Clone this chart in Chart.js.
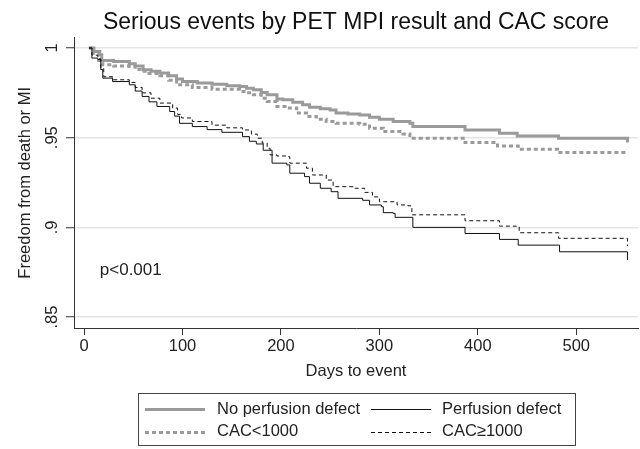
<!DOCTYPE html>
<html>
<head>
<meta charset="utf-8">
<script src="https://cdn.jsdelivr.net/npm/chart.js@4/dist/chart.umd.min.js"></script>
<style>
  html, body { margin: 0; padding: 0; background: #ffffff; overflow: hidden; }
  canvas { display: block; }
</style>
</head>
<body>
<canvas id="c" width="640" height="449"></canvas>
<script>
// ---------------- data ----------------
const chartTitle = 'Serious events by PET MPI result and CAC score';
const xTitle = 'Days to event';
const yTitle = 'Freedom from death or MI';
const xTickValues = [0, 100, 200, 300, 400, 500];
const yTickValues = [0.85, 0.9, 0.95, 1];
const yTickLabels = ['.85', '.9', '.95', '1'];
const seriesNames = ['No perfusion defect', 'Perfusion defect', 'CAC<1000', 'CAC\u22651000'];
const pValueText = 'p<0.001';

const noDefectDays = [5,10,16,18,30,46,52,60,68,77,86,94,100,115,130,145,158,165,172,180,186,196,202,212,222,229,240,250,256,268,280,290,300,314,331,334,387,422,440,482,552];
const noDefectSurv = [1.0,.998,.9963,.9931,.9925,.9912,.990,.9879,.987,.986,.9845,.9827,.9813,.9805,.9798,.979,.9785,.9775,.9767,.9752,.9739,.9715,.9711,.9697,.9683,.967,.9662,.9655,.9637,.9632,.9627,.9614,.9603,.959,.958,.9562,.9543,.9525,.951,.9497,.9473];

const defectDays = [5,8,14,17,19,29,46,52,59,66,74,87,92,97,110,125,140,161,168,175,182,191,206,209,224,229,240,251,258,283,290,302,304,314,316,334,387,422,441,483,552];
const defectSurv = [1.0,.9944,.9935,.988,.9832,.9813,.9795,.976,.973,.970,.9674,.9646,.962,.958,.9562,.9545,.953,.9506,.948,.9465,.943,.9358,.9348,.9302,.9283,.9246,.9218,.9199,.9162,.9151,.9125,.9115,.9082,.9078,.9056,.900,.8966,.8933,.8901,.8864,.8817];

const cacLowDays = [5,10,15,19,30,46,52,57,66,77,86,94,110,130,158,165,172,180,186,196,206,216,226,236,246,256,280,290,304,324,331,387,420,441,481,552];
const cacLowSurv = [1.0,.997,.993,.9907,.990,.9897,.988,.987,.9858,.9845,.982,.9795,.978,.977,.9758,.975,.9739,.972,.9702,.9674,.9665,.9637,.9618,.9603,.959,.958,.9575,.9553,.9534,.952,.9497,.9473,.9454,.9436,.9417,.9417];

const cacHighDays = [5,8,14,17,20,29,46,52,59,68,77,90,95,99,110,130,145,161,170,176,181,186,189,196,206,209,226,232,246,253,275,285,293,300,318,329,333,387,422,439,442,482,552];
const cacHighSurv = [1.0,.996,.994,.989,.984,.9823,.9808,.978,.975,.972,.9693,.9665,.963,.961,.959,.957,.9555,.9543,.952,.9497,.947,.9441,.9404,.9398,.9394,.9358,.933,.9292,.9264,.9227,.9218,.9195,.917,.9143,.9125,.912,.907,.9037,.9007,.9003,.897,.8939,.8896];

// annotation location (data units)
const pValueDay = 16;
const pValueSurv = 0.876;

// ---------------- chart ----------------
const FONT = '"Liberation Sans", Arial, Helvetica, sans-serif';
Chart.defaults.font.family = FONT;
Chart.defaults.color = '#222';

function pts(days, surv) { return days.map((d, i) => ({ x: d, y: surv[i] })); }

const GREY = '#9a9a9a';
const BLACK = '#111111';

const datasets = [
  { label: seriesNames[0], data: pts(noDefectDays, noDefectSurv), borderColor: GREY, borderWidth: 3, borderDash: [] },
  { label: seriesNames[1], data: pts(defectDays, defectSurv), borderColor: BLACK, borderWidth: 1, borderDash: [] },
  { label: seriesNames[2], data: pts(cacLowDays, cacLowSurv), borderColor: GREY, borderWidth: 3, borderDash: [4, 3] },
  { label: seriesNames[3], data: pts(cacHighDays, cacHighSurv), borderColor: BLACK, borderWidth: 1, borderDash: [4, 3] }
].map(d => Object.assign(d, { stepped: true, pointRadius: 0, fill: false, tension: 0, backgroundColor: d.borderColor }));

// draw order: grey first, black on top
datasets[0].order = 4; datasets[2].order = 3; datasets[1].order = 2; datasets[3].order = 1;

const extras = {
  id: 'extras',
  afterDraw(chart) {
    const { ctx, chartArea, scales } = chart;
    ctx.save();
    ctx.fillStyle = '#222';
    // rotated y tick labels
    ctx.font = '16.5px ' + FONT;
    ctx.textAlign = 'center';
    ctx.textBaseline = 'middle';
    yTickValues.forEach((v, i) => {
      const y = scales.y.getPixelForValue(v);
      ctx.save();
      ctx.translate(chartArea.left - 22, y);
      ctx.rotate(-Math.PI / 2);
      ctx.fillText(yTickLabels[i], 0, 0);
      ctx.restore();
    });
    // p-value annotation
    ctx.font = '17px ' + FONT;
    ctx.textAlign = 'left';
    ctx.fillText(pValueText, scales.x.getPixelForValue(pValueDay), scales.y.getPixelForValue(pValueSurv));

    // legend box (two aligned columns)
    const cx = (chartArea.left + chartArea.right) / 2;
    const boxW = 437, boxH = 52;
    const boxL = Math.round(cx - boxW / 2), boxT = 393;
    ctx.strokeStyle = '#444';
    ctx.lineWidth = 1;
    ctx.setLineDash([]);
    ctx.strokeRect(boxL + 0.5, boxT + 0.5, boxW, boxH);
    const colSw = [7, 233], swLen = 60, colTx = [79, 304];
    const rowY = [boxT + 16, boxT + 38.5];
    const layout = [[0, 1], [2, 3]];
    ctx.font = '16.5px ' + FONT;
    ctx.textBaseline = 'middle';
    layout.forEach((row, r) => {
      row.forEach((di, c) => {
        const ds = chart.data.datasets[di];
        ctx.save();
        ctx.strokeStyle = ds.borderColor;
        ctx.lineWidth = ds.borderWidth;
        ctx.setLineDash(ds.borderDash || []);
        ctx.beginPath();
        const yy = Math.round(rowY[r]) + (ds.borderWidth % 2 ? 0.5 : 0);
        ctx.moveTo(boxL + colSw[c], yy);
        ctx.lineTo(boxL + colSw[c] + swLen, yy);
        ctx.stroke();
        ctx.restore();
        ctx.fillStyle = '#222';
        ctx.textAlign = 'left';
        ctx.fillText(ds.label, boxL + colTx[c], rowY[r]);
      });
    });
    ctx.restore();
  }
};

new Chart(document.getElementById('c'), {
  type: 'line',
  data: { datasets },
  plugins: [extras],
  options: {
    responsive: false,
    animation: false,
    devicePixelRatio: 1,
    layout: { padding: { top: 0, right: 2, bottom: 59, left: 0 } },
    plugins: {
      legend: { display: false },
      tooltip: { enabled: false },
      title: {
        display: true, text: chartTitle, fullSize: false,
        font: { size: 23, weight: 'normal' }, color: '#111',
        padding: { top: 9, bottom: 1 }
      }
    },
    scales: {
      x: {
        type: 'linear', min: -10.2, max: 562.7,
        afterBuildTicks: s => { s.ticks = xTickValues.map(v => ({ value: v })); },
        ticks: { font: { size: 16.5 }, color: '#222', padding: 2, maxRotation: 0, callback: v => String(v) },
        grid: { drawOnChartArea: false, drawTicks: true, tickLength: 7, tickColor: '#333', tickWidth: 1 },
        border: { display: true, color: '#333', width: 1 },
        title: { display: true, text: xTitle, font: { size: 16.5 }, color: '#222', padding: { top: 0, bottom: 9 } },
        afterFit: s => { s.height = 62; }
      },
      y: {
        type: 'linear', min: 0.8439, max: 1.0058,
        afterBuildTicks: s => { s.ticks = yTickValues.map(v => ({ value: v })); },
        ticks: { display: false },
        grid: { color: '#e4e4e4', lineWidth: 1.5, drawTicks: true, tickLength: 8, tickColor: '#333', tickWidth: 1 },
        border: { display: true, color: '#333', width: 1 },
        title: { display: true, text: yTitle, font: { size: 16.5 }, color: '#222', padding: { top: 16, bottom: 0 } },
        afterFit: s => { s.width = 74; }
      }
    }
  }
});
</script>
</body>
</html>
